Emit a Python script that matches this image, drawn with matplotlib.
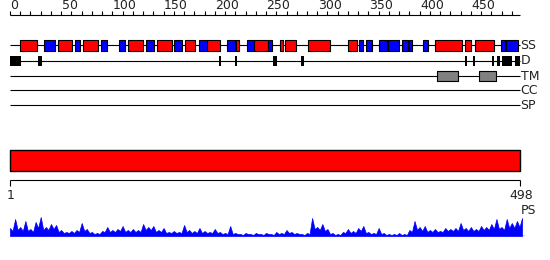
import numpy as np
import matplotlib
matplotlib.use('Agg')
import matplotlib.pyplot as plt

##===========================================
# data (residue numbers)
##===========================================
seq_len = 498

helix_start = [10, 47, 71, 115, 144, 171, 192, 221, 238, 264, 269, 291, 330, 415, 444, 454]
helix_end = [26, 61, 86, 130, 158, 181, 205, 224, 252, 267, 279, 312, 339, 441, 450, 473]

strand_start = [33, 63, 89, 106, 133, 160, 185, 212, 231, 252, 341, 348, 360, 369, 383, 390, 403, 479, 484]
strand_end = [44, 68, 95, 112, 141, 168, 192, 220, 238, 256, 345, 353, 368, 380, 389, 393, 408, 483, 496]

disorder_start = [0, 27, 204, 220, 257, 284, 444, 452, 471, 476, 480, 493]
disorder_end = [11, 31, 206, 222, 261, 287, 446, 454, 473, 478, 490, 498]

tm_start = [417, 458]
tm_end = [437, 475]

track_names = ['SS', 'D', 'TM', 'CC', 'SP']

ruler_ticks = list(range(0, 491, 10))
ruler_labels = [0, 50, 100, 150, 200, 250, 300, 350, 400, 450]

# PS profile: peaks every 5 residues, valleys in between
ps_peak = [8, 17, 9, 15, 7, 14, 19, 9, 12, 11,
           6, 4, 5, 6, 13, 7, 4, 3, 5, 9,
           6, 7, 10, 6, 7, 6, 12, 9, 10, 6,
           8, 4, 5, 4, 11, 6, 5, 8, 5, 4,
           7, 4, 3, 10, 3, 2, 3, 2, 3, 2,
           3, 2, 4, 3, 6, 4, 3, 2, 3, 18,
           9, 12, 7, 3, 2, 4, 7, 5, 8, 10,
           4, 3, 8, 3, 2, 2, 3, 2, 6, 15,
           9, 10, 6, 7, 5, 8, 7, 8, 13, 8,
           9, 7, 10, 9, 12, 17, 9, 17, 13, 15, 18]
ps_valley = [5, 6, 5, 5, 4, 8, 6, 6, 7, 4,
             3, 3, 3, 4, 5, 3, 2, 2, 4, 4,
             4, 5, 4, 4, 4, 4, 6, 6, 4, 4,
             3, 3, 3, 3, 4, 3, 3, 3, 3, 3,
             3, 2, 2, 2, 2, 1, 2, 1, 2, 1,
             2, 1, 2, 2, 3, 2, 2, 1, 2, 7,
             6, 5, 2, 1, 1, 3, 3, 3, 5, 3,
             2, 2, 2, 1, 1, 1, 1, 1, 4, 6,
             5, 4, 4, 4, 4, 5, 5, 5, 6, 5,
             5, 5, 6, 6, 7, 7, 6, 8, 8, 9]

ps_val = np.empty(len(ps_peak) + len(ps_valley))
ps_val[0::2] = ps_peak
ps_val[1::2] = ps_valley
ps_pos = np.arange(len(ps_val)) * 2.5

##===========================================
# layout: one axes in residue x / pixel-row y
##===========================================
px = 1.0241  # pixels per residue
fig = plt.figure(figsize=(5.5, 2.6), dpi=100)
ax = fig.add_axes([0, 0, 1, 1])
ax.set_xlim(-10 / px, 540 / px)
ax.set_ylim(260, 0)
ax.axis('off')

fs = 9
lw = 0.8
txt = '#222222'

# top ruler
ax.hlines(15, 0, seq_len, color='black', lw=lw)
ax.vlines(ruler_ticks, 11, 15, color='black', lw=lw)
for t in ruler_labels:
    ax.text(t + 0.5, 12, str(t), fontsize=fs, ha='left', va='bottom', color=txt)

# tracks
track_y = [45, 60.5, 75.5, 90, 105]
for name, y in zip(track_names, track_y):
    ax.hlines(y, 0, seq_len, color='black', lw=lw)
    ax.text(seq_len + 0.5, y + 0.5, name, fontsize=fs, ha='left', va='center', color=txt)

# secondary structure
ax.broken_barh([(s, e - s) for s, e in zip(helix_start, helix_end)], (40, 10.5),
               facecolor='#ff0000', edgecolor='black', lw=lw, zorder=3)
ax.broken_barh([(s, e - s) for s, e in zip(strand_start, strand_end)], (40, 10.5),
               facecolor='#0000ff', edgecolor='black', lw=lw, zorder=3)

# disorder
ax.broken_barh([(s, e - s) for s, e in zip(disorder_start, disorder_end)], (55.5, 10.5),
               facecolor='black', edgecolor='none', zorder=3)

# transmembrane
ax.broken_barh([(s, e - s) for s, e in zip(tm_start, tm_end)], (70.5, 10),
               facecolor='#808080', edgecolor='black', lw=lw, zorder=3)

# full-length bar
ax.broken_barh([(0, seq_len)], (150, 20.5), facecolor='#ff0000', edgecolor='black', lw=1.0)

# bottom ruler
ax.hlines(180, 0, seq_len, color='black', lw=lw)
ax.vlines([0, seq_len], 180, 186, color='black', lw=lw)
ax.text(1, 189, '1', fontsize=fs, ha='center', va='top', color=txt)
ax.text(seq_len + 1, 189, str(seq_len), fontsize=fs, ha='center', va='top', color=txt)
ax.text(seq_len + 1, 204, 'PS', fontsize=fs, ha='left', va='top', color=txt)

# PS profile
ax2 = fig.add_axes([0, (260 - 236) / 260, 1, 26 / 260])
ax2.set_xlim(-10 / px, 540 / px)
ax2.set_ylim(0, 26)
ax2.axis('off')
ax2.fill_between(ps_pos, 0, ps_val, color='#0000ff', lw=0.5)
ax2.hlines(0.5, 0, 503, color='#0000ff', lw=1.0)

plt.savefig('out.png', dpi=100)
